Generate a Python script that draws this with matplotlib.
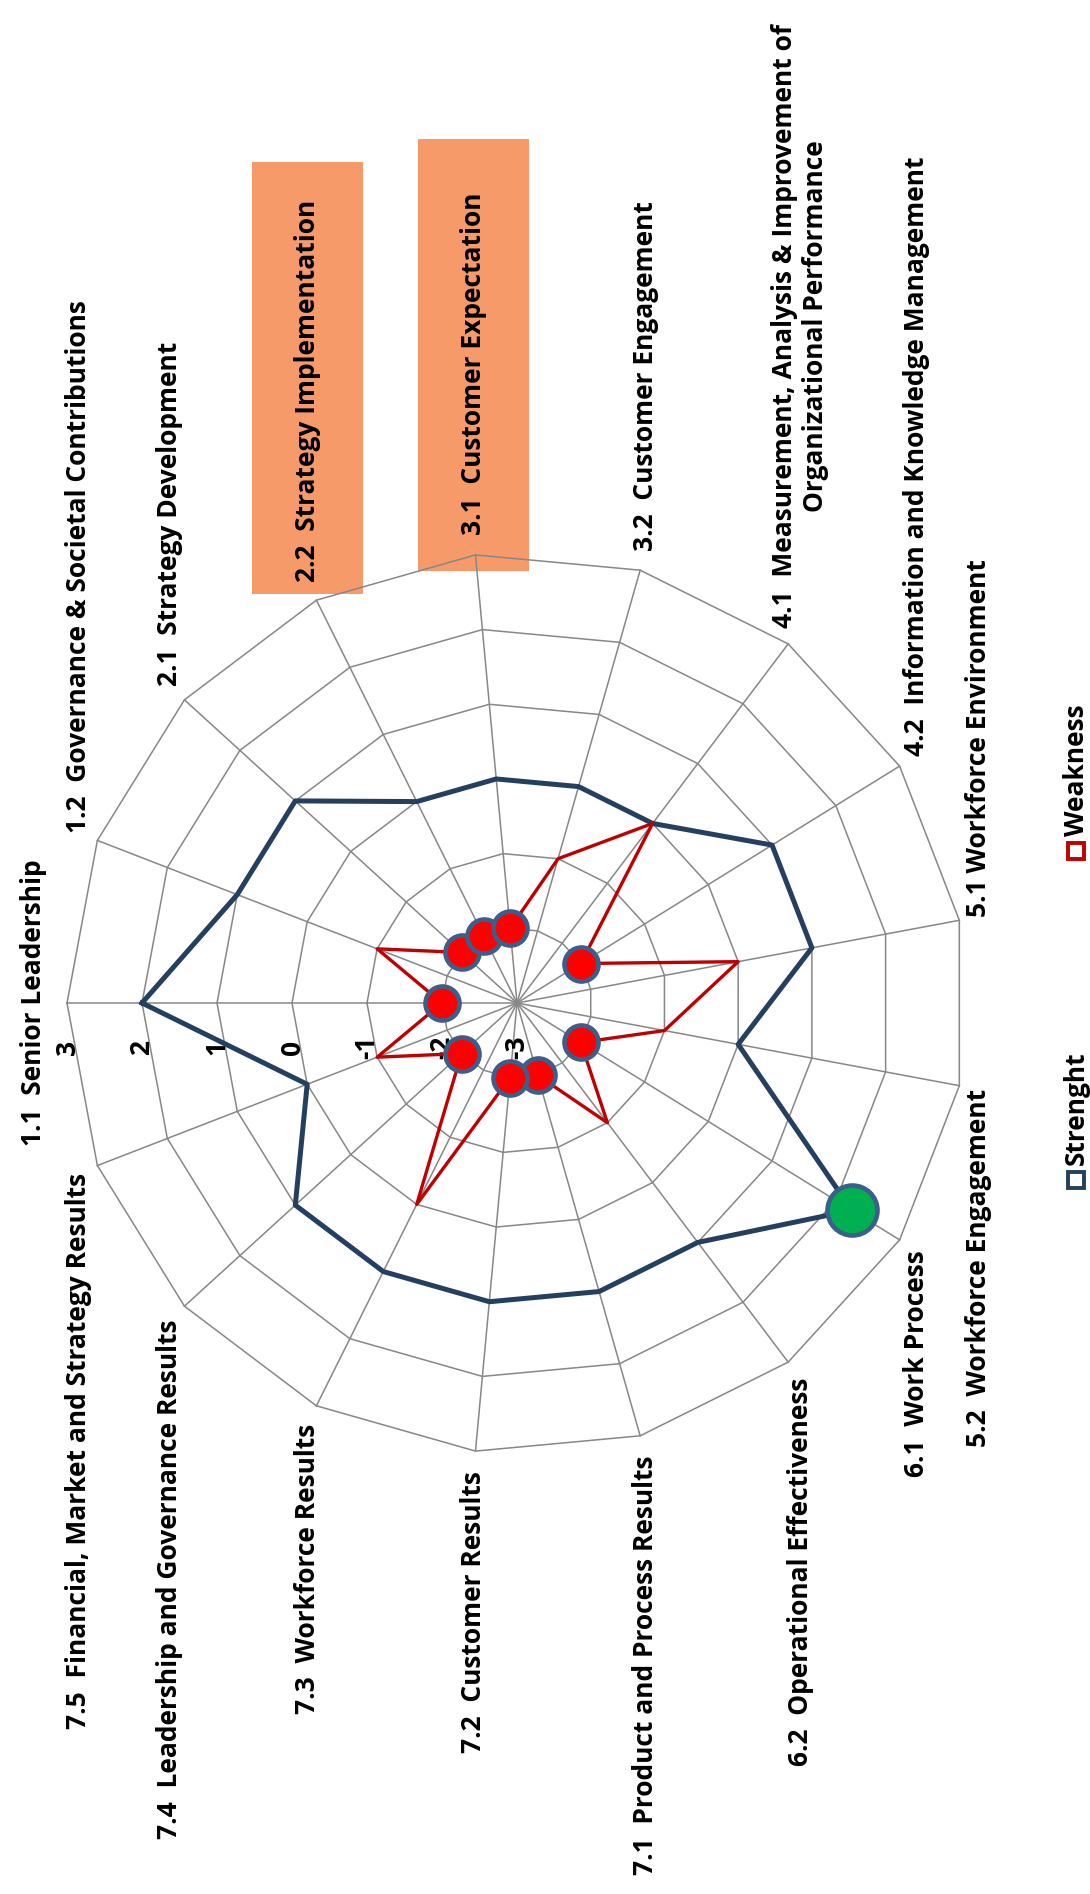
import numpy as np
import matplotlib.pyplot as plt
from matplotlib.patches import Rectangle

# Category labels, clockwise from the left-hand spoke
categories = [
    "1.1  Senior Leadership",
    "1.2  Governance & Societal Contributions",
    "2.1  Strategy Development",
    "2.2  Strategy Implementation",
    "3.1  Customer Expectation",
    "3.2  Customer Engagement",
    "4.1  Measurement, Analysis & Improvement of\nOrganizational Performance",
    "4.2  Information and Knowledge Management",
    "5.1 Workforce Environment",
    "5.2  Workforce Engagement",
    "6.1  Work Process",
    "6.2  Operational Effectiveness",
    "7.1  Product and Process Results",
    "7.2  Customer Results",
    "7.3  Workforce Results",
    "7.4  Leadership and Governance Results",
    "7.5  Financial, Market and Strategy Results",
]
strength = [2, 1, 1, 0, 0, 0, 0, 1, 1, 0, 2.25, 1, 1, 1, 1, 1, 0]
weakness = [-2, -1, -2, -2, -2, -1, 0, -2, 0, -1, -2, -1, -2, -2, 0, -2, -1]
scale_ticks = [3, 2, 1, 0, -1, -2, -3]
highlighted = {3: -0.16, 4: -0.48}   # label index -> box bottom offset

vmin, vmax = -3, 3
n = len(categories)
theta = np.pi - np.arange(n) * 2 * np.pi / n

NAVY = "#243F60"
RED = "#C00000"
EDGE = "#3A5F8B"
GRID = "#878787"

plt.rcParams["font.family"] = ["Open Sans", "DejaVu Sans"]
plt.rcParams["font.weight"] = "bold"
FS = 19


def polar_xy(values):
    r = np.asarray(values, dtype=float) - vmin
    return r * np.cos(theta), r * np.sin(theta)


def closed(a):
    return np.append(a, a[0])


fig = plt.figure(figsize=(10.9, 18.94), dpi=100)
ax = fig.add_axes([0, 0, 1, 1])
px = 75.0
ax.set_xlim(-517 / px, (1090 - 517) / px)
ax.set_ylim(-(1894 - 1003) / px, 1003 / px)
ax.axis("off")

# web grid
for level in range(vmin + 1, vmax + 1):
    gx, gy = polar_xy([level] * n)
    ax.plot(closed(gx), closed(gy), color=GRID, lw=1.1, zorder=1)
ox, oy = polar_xy([vmax] * n)
for x, y in zip(ox, oy):
    ax.plot([0, x], [0, y], color=GRID, lw=1.1, zorder=1)

# value scale along the first spoke
for v in scale_ticks:
    ax.text(-(v - vmin), -0.59, str(v), rotation=90, ha="center", va="center",
            fontsize=FS, zorder=2)

# series
sx, sy = polar_xy(strength)
ax.plot(closed(sx), closed(sy), color=NAVY, lw=3.6, zorder=3)
wx, wy = polar_xy(weakness)
ax.plot(closed(wx), closed(wy), color=RED, lw=2.4, zorder=4)

weak_mask = np.array(weakness) <= -2
ax.plot(wx[weak_mask], wy[weak_mask], ls="none", marker="o", ms=24.5,
        mfc="#FF0000", mec=EDGE, mew=3.3, zorder=5)
strong_mask = np.array(strength) > 2
ax.plot(sx[strong_mask], sy[strong_mask], ls="none", marker="o", ms=36,
        mfc="#00B050", mec=EDGE, mew=3.3, zorder=5)

# category labels
r_lab = (vmax - vmin) + 20 / px
for i, (lab, t) in enumerate(zip(categories, theta)):
    x, y = r_lab * np.cos(t), r_lab * np.sin(t)
    if i == 0:
        ha, va = "center", "bottom"
    elif i <= n // 2:
        ha, va = "left", "center"
    else:
        ha, va = "right", "center"
    ax.text(x, y, lab, rotation=90, rotation_mode="anchor", ha=ha, va=va,
            multialignment="center", fontsize=FS, linespacing=1.2, zorder=2)
    if i in highlighted:
        w, h = 111 / px, 432 / px
        ax.add_patch(Rectangle((x - w / 2, y + highlighted[i]), w, h,
                               facecolor="#F79A6A", edgecolor="none", zorder=0))

# legend
leg_x = (1076 - 517) / px
for name, color, yy in [("Strenght", NAVY, -2.36), ("Weakness", RED, 2.03)]:
    ax.plot([leg_x], [yy], marker="s", ms=11.5, mfc="white", mec=color,
            mew=2.8, ls="none")
    ax.text(leg_x, yy + 0.2, name, rotation=90, rotation_mode="anchor",
            ha="left", va="center", fontsize=FS)

fig.savefig("out.png", dpi=100)
